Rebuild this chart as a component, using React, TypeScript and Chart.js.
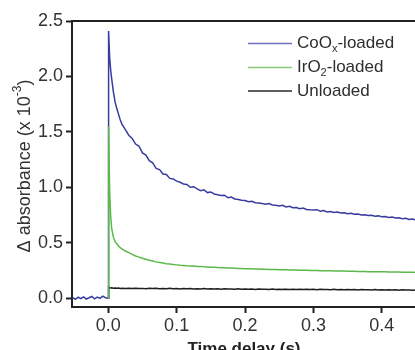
import React, { useEffect, useRef } from "react";
import { Chart, registerables } from "chart.js";

Chart.register(...registerables);

const seriesNames = ["CoOx-loaded", "IrO2-loaded", "Unloaded"];
const legendMain = [["CoO", "x", "-loaded"], ["IrO", "2", "-loaded"], ["Unloaded", "", ""]];
const xTickValues = [0.0, 0.1, 0.2, 0.3, 0.4];
const yTickValues = [0.0, 0.5, 1.0, 1.5, 2.0, 2.5];

const timeDelay = [
  -0.052, -0.048, -0.044, -0.04, -0.036, -0.032, -0.028, -0.024, -0.02, -0.016, -0.012, -0.008, -0.004, 0,
  0.0005, 0.002, 0.0035, 0.005, 0.0075, 0.01, 0.0125, 0.015, 0.0175, 0.02,
  0.025, 0.03, 0.035, 0.04, 0.045, 0.05, 0.055, 0.06, 0.065, 0.07, 0.075, 0.08, 0.085, 0.09, 0.095, 0.1,
  0.105, 0.11, 0.115, 0.12, 0.125, 0.13, 0.135, 0.14, 0.145, 0.15, 0.155, 0.16, 0.165, 0.17, 0.175, 0.18,
  0.185, 0.19, 0.195, 0.2, 0.205, 0.21, 0.215, 0.22, 0.225, 0.23, 0.235, 0.24, 0.245, 0.25, 0.255, 0.26,
  0.265, 0.27, 0.275, 0.28, 0.285, 0.29, 0.295, 0.3, 0.305, 0.31, 0.315, 0.32, 0.325, 0.33, 0.335, 0.34,
  0.345, 0.35, 0.355, 0.36, 0.365, 0.37, 0.375, 0.38, 0.385, 0.39, 0.395, 0.4, 0.405, 0.41, 0.415, 0.42,
  0.425, 0.43, 0.435, 0.44, 0.445, 0.45,
];

const coOxLoaded = [
  0.005, -0.01, 0.008, -0.004, 0.012, -0.008, 0.003, 0.015, -0.006, 0.01, -0.002, 0.018, 0.004, 0.0,
  2.41, 2.18, 2.06, 1.98, 1.86, 1.77, 1.71, 1.66, 1.61, 1.57,
  1.52, 1.47, 1.44, 1.39, 1.37, 1.31, 1.29, 1.24, 1.22, 1.17, 1.16, 1.12, 1.115, 1.08, 1.075, 1.055,
  1.045, 1.03, 1.025, 1.0, 1.005, 0.985, 0.97, 0.978, 0.952, 0.958, 0.94, 0.932, 0.925, 0.928, 0.905, 0.912,
  0.895, 0.89, 0.883, 0.88, 0.87, 0.874, 0.86, 0.858, 0.853, 0.848, 0.853, 0.84, 0.838, 0.832, 0.838, 0.822,
  0.828, 0.815, 0.818, 0.806, 0.812, 0.8, 0.797, 0.795, 0.798, 0.784, 0.79, 0.778, 0.782, 0.772, 0.776, 0.768,
  0.77, 0.762, 0.766, 0.756, 0.758, 0.75, 0.752, 0.745, 0.747, 0.739, 0.742, 0.734, 0.737, 0.728, 0.731, 0.723,
  0.725, 0.717, 0.72, 0.71, 0.713, 0.705,
];

const irO2Loaded = [
  null, null, null, null, null, null, null, null, null, null, null, null, null, 0,
  1.55, 0.98, 0.74, 0.63, 0.55, 0.51, 0.49, 0.47, 0.455, 0.445,
  0.425, 0.41, 0.395, 0.38, 0.37, 0.36, 0.35, 0.342, 0.335, 0.327, 0.322, 0.316, 0.311, 0.307, 0.303, 0.3,
  0.297, 0.295, 0.292, 0.29, 0.289, 0.286, 0.285, 0.282, 0.281, 0.279, 0.278, 0.276, 0.275, 0.274, 0.272, 0.271,
  0.27, 0.268, 0.268, 0.266, 0.265, 0.264, 0.263, 0.262, 0.261, 0.26, 0.259, 0.258, 0.258, 0.257, 0.256, 0.255,
  0.254, 0.254, 0.253, 0.252, 0.251, 0.251, 0.25, 0.249, 0.249, 0.248, 0.247, 0.247, 0.246, 0.245, 0.245, 0.244,
  0.244, 0.243, 0.242, 0.242, 0.241, 0.241, 0.24, 0.239, 0.239, 0.238, 0.238, 0.237, 0.237, 0.236, 0.236, 0.235,
  0.235, 0.234, 0.234, 0.233, 0.233, 0.232,
];

const unloaded = [
  null, null, null, null, null, null, null, null, null, null, null, null, null, 0,
  0.1, 0.095, 0.092, 0.094, 0.09, 0.092, 0.089, 0.091, 0.088, 0.09,
  0.087, 0.09, 0.086, 0.089, 0.087, 0.088, 0.085, 0.089, 0.086, 0.088, 0.085, 0.087, 0.084, 0.088, 0.085, 0.086,
  0.083, 0.087, 0.084, 0.086, 0.083, 0.085, 0.082, 0.086, 0.083, 0.085, 0.082, 0.084, 0.081, 0.085, 0.082, 0.083,
  0.081, 0.084, 0.08, 0.083, 0.081, 0.082, 0.079, 0.083, 0.08, 0.081, 0.079, 0.082, 0.078, 0.081, 0.079, 0.08,
  0.078, 0.081, 0.077, 0.08, 0.078, 0.079, 0.077, 0.08, 0.076, 0.079, 0.077, 0.078, 0.076, 0.079, 0.075, 0.078,
  0.076, 0.077, 0.075, 0.078, 0.074, 0.077, 0.075, 0.076, 0.074, 0.077, 0.073, 0.076, 0.074, 0.075, 0.073, 0.076,
  0.072, 0.075, 0.073, 0.074, 0.072, 0.074,
];

const lineColors = ["#383c9e", "#5cb84a", "#1e1e1e"];
const legendColors = ["#6e72c2", "#86c978", "#2a2a2a"];
const drawOrder = [1, 0, 2];

const FONT = "'Liberation Sans', Arial, sans-serif";

const decorPlugin = {
  id: "decor",
  afterDraw(chart: any) {
    const { ctx, chartArea } = chart;
    ctx.save();
    // top frame
    ctx.strokeStyle = "#222";
    ctx.lineWidth = 2;
    ctx.beginPath();
    ctx.moveTo(chartArea.left - 1, chartArea.top);
    ctx.lineTo(chartArea.right, chartArea.top);
    ctx.stroke();

    // legend
    const rows = [43.5, 67.5, 91];
    legendMain.forEach((parts, i) => {
      const y = rows[i];
      ctx.strokeStyle = legendColors[i];
      ctx.lineWidth = 1.5;
      ctx.beginPath();
      ctx.moveTo(248, y);
      ctx.lineTo(292, y);
      ctx.stroke();
      ctx.fillStyle = "#2e2e2e";
      ctx.textBaseline = "middle";
      ctx.textAlign = "left";
      let x = 297;
      ctx.font = `17px ${FONT}`;
      ctx.fillText(parts[0], x, y);
      x += ctx.measureText(parts[0]).width;
      if (parts[1]) {
        ctx.font = `11px ${FONT}`;
        ctx.fillText(parts[1], x, y + 5);
        x += ctx.measureText(parts[1]).width;
      }
      if (parts[2]) {
        ctx.font = `17px ${FONT}`;
        ctx.fillText(parts[2], x, y);
      }
    });

    // y title
    ctx.save();
    ctx.translate(25, 166);
    ctx.rotate(-Math.PI / 2);
    ctx.fillStyle = "#333";
    ctx.textBaseline = "middle";
    ctx.textAlign = "left";
    const a = "\u0394 absorbance (x 10";
    const b = "-3";
    const c = ")";
    ctx.font = `18px ${FONT}`;
    const wa = ctx.measureText(a).width;
    const wc = ctx.measureText(c).width;
    ctx.font = `12px ${FONT}`;
    const wb = ctx.measureText(b).width;
    let x0 = -(wa + wb + wc) / 2;
    ctx.font = `18px ${FONT}`;
    ctx.fillText(a, x0, 0);
    x0 += wa;
    ctx.font = `12px ${FONT}`;
    ctx.fillText(b, x0, -7);
    x0 += wb;
    ctx.font = `18px ${FONT}`;
    ctx.fillText(c, x0, 0);
    ctx.restore();

    // x title
    ctx.fillStyle = "#222";
    ctx.font = `bold 17px ${FONT}`;
    ctx.textAlign = "center";
    ctx.textBaseline = "alphabetic";
    ctx.fillText("Time delay (s)", (chartArea.left + chartArea.right) / 2, 354);
    ctx.restore();
  },
};

export default function App() {
  const ref = useRef<HTMLCanvasElement>(null);

  useEffect(() => {
    if (!ref.current) return;
    const series = [coOxLoaded, irO2Loaded, unloaded];
    const chart = new Chart(ref.current, {
      type: "line",
      data: {
        datasets: series.map((vals, i) => ({
          label: seriesNames[i],
          data: timeDelay.map((t, k) => ({ x: t, y: vals[k] })),
          borderColor: lineColors[i],
          backgroundColor: lineColors[i],
          borderWidth: 1.5,
          pointRadius: 0,
          tension: 0,
          fill: false,
          spanGaps: false,
          order: drawOrder[i],
        })),
      },
      options: {
        animation: false,
        responsive: false,
        events: [],
        layout: { padding: { top: 21, left: 0, right: 14, bottom: 0 } },
        plugins: { legend: { display: false }, tooltip: { enabled: false } },
        scales: {
          x: {
            type: "linear",
            min: -0.053,
            max: 0.45,
            afterBuildTicks: (s: any) => {
              s.ticks = xTickValues.map((v) => ({ value: v }));
            },
            afterFit: (s: any) => {
              s.height = 53;
            },
            ticks: {
              color: "#333",
              padding: 2,
              maxRotation: 0,
              font: { family: FONT, size: 18 },
              callback: (v: any) => Number(v).toFixed(1),
            },
            grid: {
              display: true,
              drawOnChartArea: false,
              drawTicks: true,
              tickLength: 6,
              tickWidth: 2,
              tickColor: "#222",
            },
            border: { display: true, color: "#222", width: 2 },
            title: { display: false },
          },
          y: {
            type: "linear",
            min: -0.08,
            max: 2.5,
            afterBuildTicks: (s: any) => {
              s.ticks = yTickValues.map((v) => ({ value: v }));
            },
            afterFit: (s: any) => {
              s.width = 72;
            },
            ticks: {
              color: "#333",
              padding: 3,
              font: { family: FONT, size: 18 },
              callback: (v: any) => Number(v).toFixed(1),
            },
            grid: {
              display: true,
              drawOnChartArea: false,
              drawTicks: true,
              tickLength: 6,
              tickWidth: 2,
              tickColor: "#222",
            },
            border: { display: true, color: "#222", width: 2 },
            title: { display: false },
          },
        },
      },
      plugins: [decorPlugin],
    });
    return () => chart.destroy();
  }, []);

  return (
    <div
      style={{
        position: "fixed",
        left: 0,
        top: 0,
        width: 415,
        height: 350,
        overflow: "hidden",
        background: "#fff",
      }}
    >
      <canvas ref={ref} width={430} height={360} style={{ display: "block" }} />
    </div>
  );
}
